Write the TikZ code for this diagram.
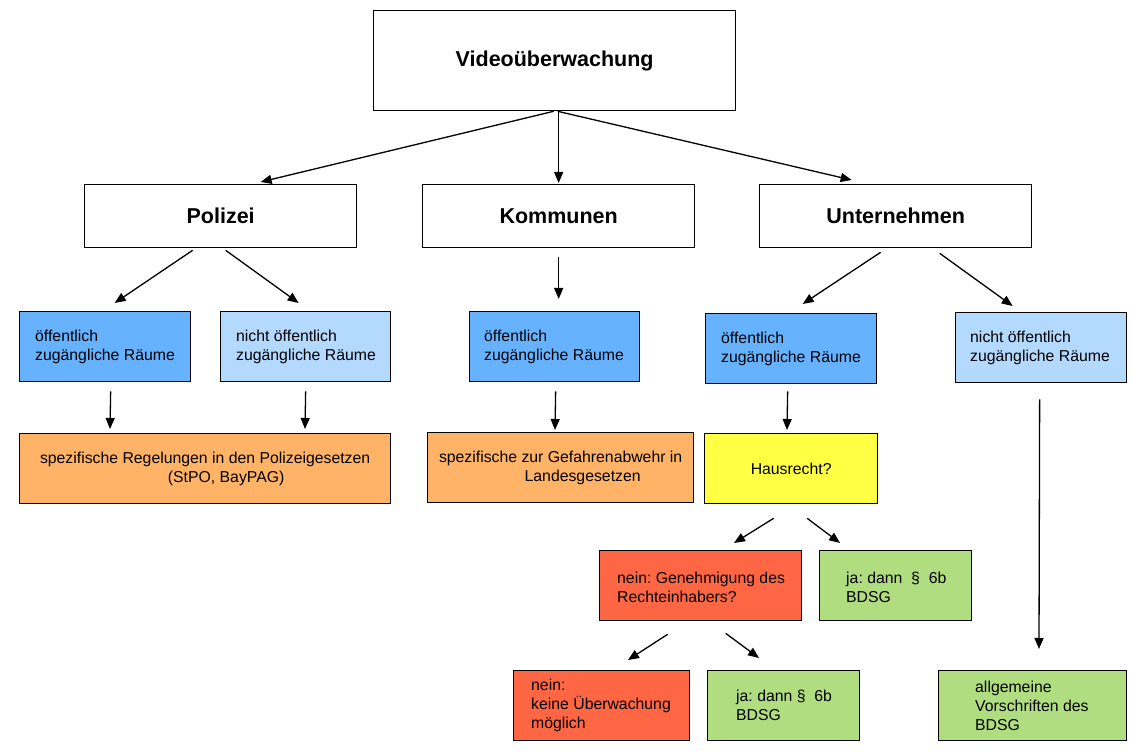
\documentclass[tikz,border=0pt]{standalone}
\usepackage{fontspec}
\setmainfont{Liberation Sans}
\frenchspacing
\usetikzlibrary{arrows.meta,calc}
\definecolor{cblue}{RGB}{102,178,255}
\definecolor{clblue}{RGB}{179,217,255}
\definecolor{corange}{RGB}{255,179,102}
\definecolor{cyellow}{RGB}{255,255,68}
\definecolor{cred}{RGB}{255,102,68}
\definecolor{cgreen}{RGB}{176,221,128}
\tikzset{
  box/.style={draw=black, line width=1.3pt, rectangle, anchor=north west, inner sep=0pt},
  txt/.style={inner sep=0pt, align=left, anchor=west, font=\fontsize{15.8}{19}\selectfont},
  ctxt/.style={align=center, font=\fontsize{15.8}{19}\selectfont},
  btxt/.style={font=\fontsize{21.5}{26}\selectfont\bfseries},
  arr/.style={-{Triangle[length=11pt,width=9pt]}, line width=1.3pt}
}
\begin{document}
\begin{tikzpicture}[x=1pt,y=-1pt]
\useasboundingbox (0,0) rectangle (1133,751);
% level 1
\node[box, minimum width=362pt, minimum height=100pt, btxt] (top) at (373,10) {\raisebox{-2pt}{Videoüberwachung}};
% level 2
\node[box, minimum width=272pt, minimum height=63pt, btxt] (pol) at (84,184) {Polizei};
\node[box, minimum width=272pt, minimum height=63pt, btxt] (kom) at (422,184) {Kommunen};
\node[box, minimum width=272pt, minimum height=63pt, btxt] (unt) at (759,184) {Unternehmen};
% level 3
\node[box, fill=cblue, minimum width=171pt, minimum height=70pt] (p1) at (19,311) {};
\node[txt] (p1t) at ($(p1.west)+(16,0)$) {öffentlich\\zugängliche Räume};
\node[box, fill=clblue, minimum width=170pt, minimum height=70pt] (p2) at (220,311) {};
\node[txt] (p2t) at ($(p2.west)+(16,0)$) {nicht öffentlich\\zugängliche Räume};
\node[box, fill=cblue, minimum width=170pt, minimum height=70pt] (k1) at (469,311) {};
\node[txt] (k1t) at ($(k1.west)+(15,0)$) {öffentlich\\zugängliche Räume};
\node[box, fill=cblue, minimum width=171pt, minimum height=70pt] (u1) at (705,313) {};
\node[txt] (u1t) at ($(u1.west)+(16,0)$) {öffentlich\\zugängliche Räume};
\node[box, fill=clblue, minimum width=171pt, minimum height=70pt] (u2) at (955,312) {};
\node[txt] (u2t) at ($(u2.west)+(15,0)$) {nicht öffentlich\\zugängliche Räume};
% level 4
\node[box, fill=corange, minimum width=371pt, minimum height=70pt, ctxt] (po) at (19,433) {spezifische Regelungen in den Polizeigesetzen\\\hspace*{42pt}(StPO, BayPAG)};
\node[box, fill=corange, minimum width=266pt, minimum height=70pt, ctxt] (ko) at (427,432) {spezifische zur Gefahrenabwehr in\\\hspace*{44pt}Landesgesetzen};
\node[box, fill=cyellow, minimum width=173pt, minimum height=70pt, ctxt] (haus) at (704,433) {Hausrecht?};
% level 5
\node[box, fill=cred, minimum width=202pt, minimum height=70pt] (gen) at (599,550) {};
\node[txt] (gent) at ($(gen.west)+(18,1.5)$) {nein: Genehmigung des\\Rechteinhabers?};
\node[box, fill=cgreen, minimum width=152pt, minimum height=70pt] (ja1) at (819,550) {};
\node[txt] (ja1t) at ($(ja1.west)+(27,1.5)$) {ja: dann~~§~~6b\\BDSG};
% level 6
\node[box, fill=cred, minimum width=176pt, minimum height=70pt] (kein) at (513,670) {};
\node[txt] (keint) at ($(kein.west)+(18,0)$) {nein:\\keine Überwachung\\möglich};
\node[box, fill=cgreen, minimum width=152pt, minimum height=70pt] (ja2) at (707,670) {};
\node[txt] (ja2t) at ($(ja2.west)+(29,0)$) {ja: dann §~~6b\\BDSG};
\node[box, fill=cgreen, minimum width=188pt, minimum height=70pt] (allg) at (938,670) {};
\node[txt] (allgt) at ($(allg.west)+(37,0)$) {allgemeine\\Vorschriften des\\BDSG};
% arrows
\draw[arr] ($(top.south)+(-1,0)$) -- ($(pol.north)+(40,-2)$);
\draw[arr] ($(top.south)+(4,0)$) -- ($(kom.north)+(0,-1)$);
\draw[arr] ($(top.south)+(3,0)$) -- ($(unt.north)+(-44,-4)$);
\draw[arr] ($(pol.south)+(-28,2)$) -- ($(p1.north)+(9.5,-8)$);
\draw[arr] ($(pol.south)+(5,2)$) -- ($(p2.north)+(-7,-8)$);
\draw[arr] ($(kom.south)+(0,9)$) -- ($(k1.north)+(4,-12)$);
\draw[arr] ($(unt.south)+(-15,4)$) -- ($(u1.north)+(11.5,-9)$);
\draw[arr] ($(unt.south)+(44,5)$) -- ($(u2.north)+(-28.5,-6)$);
\draw[arr] ($(p1.south)+(5.5,9)$) -- ($(po.north west)+(91,-4)$);
\draw[arr] ($(p2.south)+(0,9)$) -- ($(po.north west)+(286,-4)$);
\draw[arr] ($(k1.south)+(1,9)$) -- ($(ko.north west)+(128,-2)$);
\draw[arr] ($(u1.south)+(-3.5,7)$) -- ($(haus.north west)+(83,-3)$);
\draw[arr] ($(u2.south)+(-1.5,16)$) -- ($(allg.north west)+(101,-21)$);
\draw[arr] ($(haus.south)+(-17.5,14)$) -- ($(gen.north west)+(135,-7)$);
\draw[arr] ($(haus.south)+(16,14)$) -- ($(ja1.north west)+(21,-7)$);
\draw[arr] ($(gen.south)+(-33,13)$) -- ($(kein.north west)+(115,-10)$);
\draw[arr] ($(gen.south)+(25,12)$) -- ($(ja2.north west)+(52,-12)$);
\end{tikzpicture}
\end{document}
